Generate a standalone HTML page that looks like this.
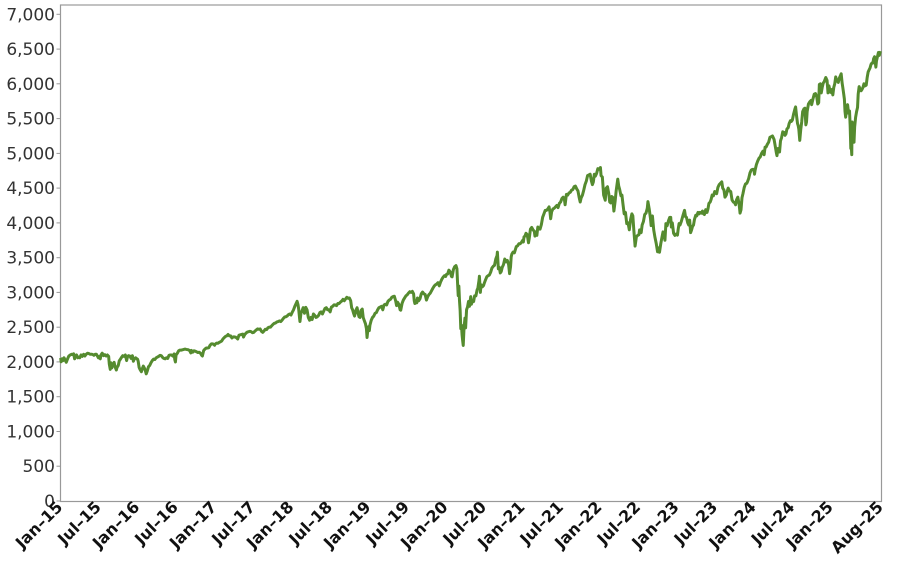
<!DOCTYPE html>
<html>
<head>
<meta charset="utf-8">
<style>
  html,body{margin:0;padding:0;background:#fff;}
  svg{display:block;}
  .yl{font-family:"DejaVu Sans","Liberation Sans",sans-serif;font-size:17px;fill:#333;}
  .xl{font-family:"DejaVu Sans","Liberation Sans",sans-serif;font-size:16px;font-weight:bold;fill:#111;}
</style>
</head>
<body>
<svg width="902" height="574" viewBox="0 0 902 574" xmlns="http://www.w3.org/2000/svg">
  <rect x="0" y="0" width="902" height="574" fill="#fff"/>
  <rect x="60.5" y="5" width="821" height="496.5" fill="none" stroke="#999" stroke-width="1.2"/>
  <g stroke="#999" stroke-width="1">
    <line x1="56.5" x2="60.5" y1="501" y2="501"/>
    <line x1="56.5" x2="60.5" y1="466.2" y2="466.2"/>
    <line x1="56.5" x2="60.5" y1="431.5" y2="431.5"/>
    <line x1="56.5" x2="60.5" y1="396.7" y2="396.7"/>
    <line x1="56.5" x2="60.5" y1="361.9" y2="361.9"/>
    <line x1="56.5" x2="60.5" y1="327.2" y2="327.2"/>
    <line x1="56.5" x2="60.5" y1="292.4" y2="292.4"/>
    <line x1="56.5" x2="60.5" y1="257.7" y2="257.7"/>
    <line x1="56.5" x2="60.5" y1="222.9" y2="222.9"/>
    <line x1="56.5" x2="60.5" y1="188.1" y2="188.1"/>
    <line x1="56.5" x2="60.5" y1="153.4" y2="153.4"/>
    <line x1="56.5" x2="60.5" y1="118.6" y2="118.6"/>
    <line x1="56.5" x2="60.5" y1="83.8" y2="83.8"/>
    <line x1="56.5" x2="60.5" y1="49.1" y2="49.1"/>
    <line x1="56.5" x2="60.5" y1="14.3" y2="14.3"/>
  </g>
  <g class="yl" text-anchor="end">
    <text x="55" y="507">0</text>
    <text x="55" y="472.2">500</text>
    <text x="55" y="437.5">1,000</text>
    <text x="55" y="402.7">1,500</text>
    <text x="55" y="367.9">2,000</text>
    <text x="55" y="333.2">2,500</text>
    <text x="55" y="298.4">3,000</text>
    <text x="55" y="263.7">3,500</text>
    <text x="55" y="228.9">4,000</text>
    <text x="55" y="194.1">4,500</text>
    <text x="55" y="159.4">5,000</text>
    <text x="55" y="124.6">5,500</text>
    <text x="55" y="89.8">6,000</text>
    <text x="55" y="55.1">6,500</text>
    <text x="55" y="20.3">7,000</text>
  </g>
  <g class="xl" text-anchor="end">
    <text transform="translate(63.5,508) rotate(-45)">Jan–15</text>
    <text transform="translate(102,508) rotate(-45)">Jul–15</text>
    <text transform="translate(140.5,508) rotate(-45)">Jan–16</text>
    <text transform="translate(179,508) rotate(-45)">Jul–16</text>
    <text transform="translate(217.6,508) rotate(-45)">Jan–17</text>
    <text transform="translate(256.1,508) rotate(-45)">Jul–17</text>
    <text transform="translate(294.6,508) rotate(-45)">Jan–18</text>
    <text transform="translate(333.2,508) rotate(-45)">Jul–18</text>
    <text transform="translate(371.7,508) rotate(-45)">Jan–19</text>
    <text transform="translate(410.2,508) rotate(-45)">Jul–19</text>
    <text transform="translate(448.7,508) rotate(-45)">Jan–20</text>
    <text transform="translate(487.3,508) rotate(-45)">Jul–20</text>
    <text transform="translate(525.8,508) rotate(-45)">Jan–21</text>
    <text transform="translate(564.3,508) rotate(-45)">Jul–21</text>
    <text transform="translate(602.8,508) rotate(-45)">Jan–22</text>
    <text transform="translate(641.4,508) rotate(-45)">Jul–22</text>
    <text transform="translate(679.9,508) rotate(-45)">Jan–23</text>
    <text transform="translate(718.4,508) rotate(-45)">Jul–23</text>
    <text transform="translate(756.9,508) rotate(-45)">Jan–24</text>
    <text transform="translate(795.5,508) rotate(-45)">Jul–24</text>
    <text transform="translate(834,508) rotate(-45)">Jan–25</text>
    <text transform="translate(884,508) rotate(-45)">Aug–25</text>
  </g>
  <g transform="translate(60.5,501) scale(6.42,-0.06953)">
    <polyline fill="none" stroke="#558b2f" stroke-width="3" stroke-linejoin="round" vector-effect="non-scaling-stroke" points="
0.03,2058 0.1,2002 0.25,2045 0.4,2020 0.55,2060 0.75,2022 0.9,1995 1.0,2020 1.15,2055 1.3,2085 1.5,2100 1.75,2110 1.9,2105 2.05,2117 2.2,2045 2.35,2080 2.5,2100 2.7,2060 2.9,2070 3.0,2060 3.2,2100 3.4,2080 3.6,2110 3.8,2085 4.0,2110 4.2,2125 4.4,2122 4.6,2110 4.9,2110 5.0,2108 5.2,2095 5.4,2110 5.6,2110 5.9,2060 6.0,2077 6.2,2045 6.3,2100 6.5,2126 6.7,2090 6.9,2105 7.1,2085 7.3,2100 7.5,2080 7.6,1970 7.75,1893 7.85,1988 8.0,1915 8.15,1960 8.35,1995 8.5,1930 8.7,1884 8.8,1920 9.0,1950 9.15,2015 9.3,2035 9.5,2065 9.7,2090 9.9,2080 10.1,2100 10.3,2020 10.45,2080 10.6,2090 10.8,2085 11.0,2050 11.2,2090 11.35,2010 11.5,2045 11.7,2060 11.9,2045 12.0,2040
12.1,2010 12.25,1920 12.4,1890 12.6,1860 12.75,1905 12.9,1940 13.05,1915 13.2,1880 13.35,1829 13.5,1865 13.7,1930 13.9,1950 14.1,1990 14.3,2020 14.5,2040 14.7,2035 14.9,2060 15.1,2070 15.3,2080 15.5,2095 15.7,2090 15.9,2065 16.1,2050 16.3,2045 16.5,2060 16.7,2050 16.9,2095 17.1,2100 17.3,2100 17.5,2085 17.7,2115 17.8,2035 17.9,2000 18.0,2100 18.2,2125 18.4,2160 18.6,2170 18.8,2170 19.0,2175 19.2,2180 19.4,2185 19.6,2180 19.9,2175 20.1,2165 20.3,2130 20.4,2165 20.6,2140 20.8,2160 21.0,2155 21.2,2145 21.4,2135 21.6,2140 21.8,2125 22.0,2095 22.1,2085 22.3,2165 22.5,2185 22.7,2200 22.9,2200 23.1,2205 23.3,2240 23.5,2260 23.7,2260 23.9,2250 24.0,2240
24.1,2257 24.3,2270 24.5,2268 24.7,2280 24.9,2290 25.1,2300 25.3,2330 25.5,2350 25.7,2367 25.9,2375 26.1,2395 26.3,2375 26.5,2375 26.7,2345 26.9,2360 27.1,2360 27.3,2355 27.5,2340 27.6,2330 27.8,2385 28.0,2390 28.2,2395 28.4,2400 28.5,2358 28.7,2395 28.9,2415 29.1,2430 29.3,2435 29.5,2440 29.7,2435 29.9,2420 30.1,2425 30.3,2445 30.5,2460 30.7,2475 30.9,2470 31.1,2475 31.3,2440 31.5,2425 31.7,2445 31.9,2470 32.1,2465 32.3,2490 32.5,2500 32.7,2500 32.9,2520 33.1,2540 33.3,2555 33.5,2560 33.7,2575 33.9,2580 34.1,2590 34.3,2580 34.5,2600 34.7,2625 34.9,2645 35.1,2650 35.3,2660 35.5,2680 35.7,2690 35.9,2675
36.1,2715 36.3,2750 36.5,2800 36.7,2840 36.85,2872 37.0,2822 37.1,2760 37.25,2620 37.3,2581 37.45,2700 37.6,2730 37.8,2780 38.0,2700 38.2,2785 38.4,2750 38.6,2640 38.8,2600 39.0,2640 39.2,2610 39.4,2690 39.6,2670 39.8,2640 40.0,2650 40.2,2670 40.4,2710 40.6,2720 40.8,2690 41.0,2730 41.2,2770 41.4,2780 41.6,2750 41.8,2750 42.0,2720 42.2,2790 42.4,2800 42.6,2820 42.8,2820 43.0,2810 43.2,2840 43.4,2840 43.6,2860 43.8,2875 44.0,2900 44.2,2880 44.4,2905 44.6,2930 44.8,2915 45.0,2920 45.2,2880 45.35,2780 45.5,2750 45.65,2700 45.8,2660 46.0,2740 46.2,2780 46.35,2700 46.5,2650 46.65,2640 46.8,2740 47.0,2760 47.15,2640 47.3,2600 47.5,2550 47.65,2480 47.75,2351 47.9,2490 48.0,2506
48.1,2450 48.2,2530 48.4,2600 48.6,2640 48.8,2660 49.0,2700 49.2,2710 49.4,2750 49.6,2780 49.8,2790 50.0,2800 50.2,2750 50.4,2820 50.6,2830 50.8,2820 51.0,2870 51.2,2890 51.4,2900 51.6,2930 51.8,2940 52.0,2945 52.2,2880 52.35,2810 52.5,2860 52.7,2830 52.9,2750 53.0,2745 53.2,2840 53.4,2890 53.6,2920 53.8,2950 54.0,2965 54.2,2990 54.4,3010 54.6,3000 54.8,3015 55.0,2980 55.1,2880 55.2,2840 55.4,2880 55.5,2850 55.6,2920 55.8,2880 56.0,2910 56.2,2980 56.4,3005 56.6,2980 56.8,2970 57.0,2890 57.2,2940 57.4,2970 57.6,2990 57.8,3025 58.0,3060 58.2,3090 58.4,3110 58.6,3120 58.8,3140 59.0,3095 59.2,3150 59.4,3190 59.6,3220 59.8,3240 60.0,3230
60.1,3258 60.3,3265 60.5,3320 60.7,3295 60.9,3230 61.0,3225 61.2,3330 61.4,3370 61.6,3386 61.75,3340 61.85,3130 61.95,2954 62.05,3090 62.15,2880 62.25,2740 62.35,2480 62.45,2530 62.55,2390 62.65,2300 62.73,2237 62.85,2480 63.0,2630 63.1,2490 63.25,2750 63.4,2790 63.55,2870 63.7,2800 63.9,2940 64.0,2830 64.2,2880 64.35,2870 64.5,2950 64.7,2950 64.9,3040 65.0,3055 65.2,3180 65.25,3232 65.4,3000 65.5,3110 65.7,3080 65.9,3100 66.0,3130 66.2,3180 66.4,3225 66.6,3240 66.8,3250 67.0,3290 67.2,3350 67.4,3375 67.6,3390 67.8,3480 68.0,3530 68.05,3580 68.2,3340 68.35,3360 68.5,3280 68.65,3300 68.8,3360 69.0,3400 69.2,3480 69.4,3440 69.6,3460 69.8,3400 69.95,3270 70.1,3370 70.2,3510 70.3,3550 70.5,3580 70.7,3570 70.9,3630 71.0,3660 71.2,3670 71.4,3700 71.6,3700 71.8,3720 72.0,3750
72.1,3726 72.2,3800 72.35,3810 72.5,3850 72.7,3830 72.9,3714 73.0,3770 73.2,3910 73.4,3935 73.6,3900 73.8,3880 73.9,3810 74.1,3870 74.2,3820 74.35,3940 74.5,3915 74.7,3910 74.9,3975 75.1,4080 75.3,4130 75.5,4180 75.7,4180 75.9,4200 76.1,4230 76.25,4150 76.35,4060 76.5,4160 76.7,4200 76.9,4210 77.1,4230 77.3,4250 77.5,4220 77.7,4280 77.9,4300 78.1,4350 78.3,4370 78.5,4330 78.6,4260 78.8,4410 79.0,4400 79.2,4430 79.4,4440 79.6,4470 79.8,4480 80.0,4520 80.2,4530 80.4,4490 80.6,4460 80.8,4360 80.95,4300 81.1,4360 81.3,4400 81.5,4470 81.7,4550 81.9,4600 82.1,4680 82.3,4690 82.5,4700 82.7,4600 82.85,4550 83.0,4590 83.15,4700 83.3,4670 83.5,4710 83.7,4780 83.9,4770
84.1,4796 84.2,4680 84.4,4660 84.6,4400 84.85,4326 85.0,4500 85.2,4520 85.4,4420 85.55,4300 85.7,4288 85.85,4380 86.0,4370 86.2,4170 86.4,4320 86.55,4460 86.8,4630 86.95,4530 87.1,4480 87.3,4390 87.45,4400 87.6,4280 87.8,4130 88.0,4150 88.2,3990 88.4,4000 88.6,3900 88.8,4050 89.0,4130 89.15,4100 89.3,3900 89.5,3666 89.7,3800 89.9,3820 90.1,3830 90.2,3900 90.45,3860 90.6,3970 90.8,4020 91.0,4120 91.2,4140 91.4,4210 91.5,4305 91.7,4200 91.9,4060 92.0,3960 92.2,4100 92.4,3900 92.6,3790 92.8,3700 93.0,3585 93.2,3640 93.3,3577 93.5,3700 93.7,3800 93.85,3870 94.0,3856 94.15,3750 94.3,3990 94.5,3960 94.7,4030 94.9,4080 95.05,4080 95.15,3940 95.3,4000 95.5,3850 95.7,3820 95.9,3840 96.0,3840
96.1,3824 96.2,3900 96.35,3990 96.5,3970 96.7,4020 96.85,4070 97.0,4120 97.2,4180 97.35,4090 97.5,4080 97.7,4000 97.85,3970 98.0,4040 98.15,3860 98.3,3900 98.45,3950 98.6,3970 98.75,4050 98.95,4110 99.1,4100 99.3,4150 99.45,4130 99.6,4150 99.8,4140 100.0,4170 100.15,4130 100.3,4120 100.5,4190 100.7,4150 100.85,4200 101.0,4280 101.2,4300 101.35,4340 101.5,4400 101.7,4390 101.9,4450 102.0,4430 102.2,4420 102.4,4510 102.6,4550 102.8,4570 103.0,4590 103.15,4500 103.35,4470 103.5,4370 103.7,4400 103.9,4470 104.0,4500 104.2,4460 104.4,4450 104.6,4330 104.8,4300 105.0,4290 105.15,4260 105.3,4330 105.5,4370 105.7,4270 105.85,4140 106.0,4190 106.15,4360 106.3,4420 106.5,4510 106.7,4560 106.9,4570 107.0,4590 107.2,4640 107.4,4720 107.6,4760 107.8,4770 108.0,4770
108.1,4700 108.2,4760 108.4,4840 108.6,4890 108.8,4930 109.0,4950 109.2,5000 109.4,5030 109.6,4980 109.75,5090 109.9,5090 110.1,5130 110.3,5160 110.5,5230 110.7,5240 110.9,5250 111.0,5230 111.15,5200 111.3,5120 111.5,5010 111.6,4967 111.75,5070 111.9,5050 112.0,5020 112.15,5180 112.3,5220 112.5,5310 112.7,5300 112.85,5260 113.0,5280 113.15,5350 113.35,5370 113.5,5430 113.7,5470 113.85,5460 114.0,5480 114.2,5570 114.4,5640 114.5,5667 114.65,5540 114.8,5430 114.9,5400 115.0,5350 115.15,5186 115.3,5340 115.45,5450 115.6,5600 115.8,5640 115.95,5650 116.1,5410 116.2,5450 116.3,5600 116.5,5710 116.7,5740 116.9,5760 117.0,5700 117.2,5780 117.4,5850 117.6,5860 117.8,5810 117.95,5710 118.1,5730 118.2,5990 118.35,6000 118.5,5870 118.65,5950 118.8,6010 118.95,6030 119.2,6090 119.4,6050 119.55,5870 119.7,5970 119.9,5880 120.0,5880
120.1,5870 120.2,5920 120.3,5840 120.45,5950 120.6,6000 120.75,6100 120.9,6040 121.0,6040 121.15,6020 121.3,6080 121.45,6110 121.6,6144 121.75,6010 121.85,5950 122.0,5850 122.1,5780 122.2,5600 122.3,5520 122.45,5640 122.6,5700 122.75,5580 122.9,5610 123.0,5400 123.1,5070 123.2,5060 123.25,4982 123.3,5450 123.4,5270 123.5,5280 123.6,5160 123.7,5380 123.85,5520 124.0,5600 124.15,5660 124.25,5850 124.4,5960 124.55,5920 124.7,5900 124.85,5920 125.0,5950 125.15,6000 125.3,5970 125.5,5980 125.65,6090 125.8,6170 125.95,6200 126.1,6230 126.25,6280 126.4,6300 126.55,6300 126.65,6360 126.8,6390 126.95,6280 127.0,6240 127.1,6330 127.25,6390 127.4,6450 127.55,6410 127.7,6470"/>
  </g>
</svg>
</body>
</html>
